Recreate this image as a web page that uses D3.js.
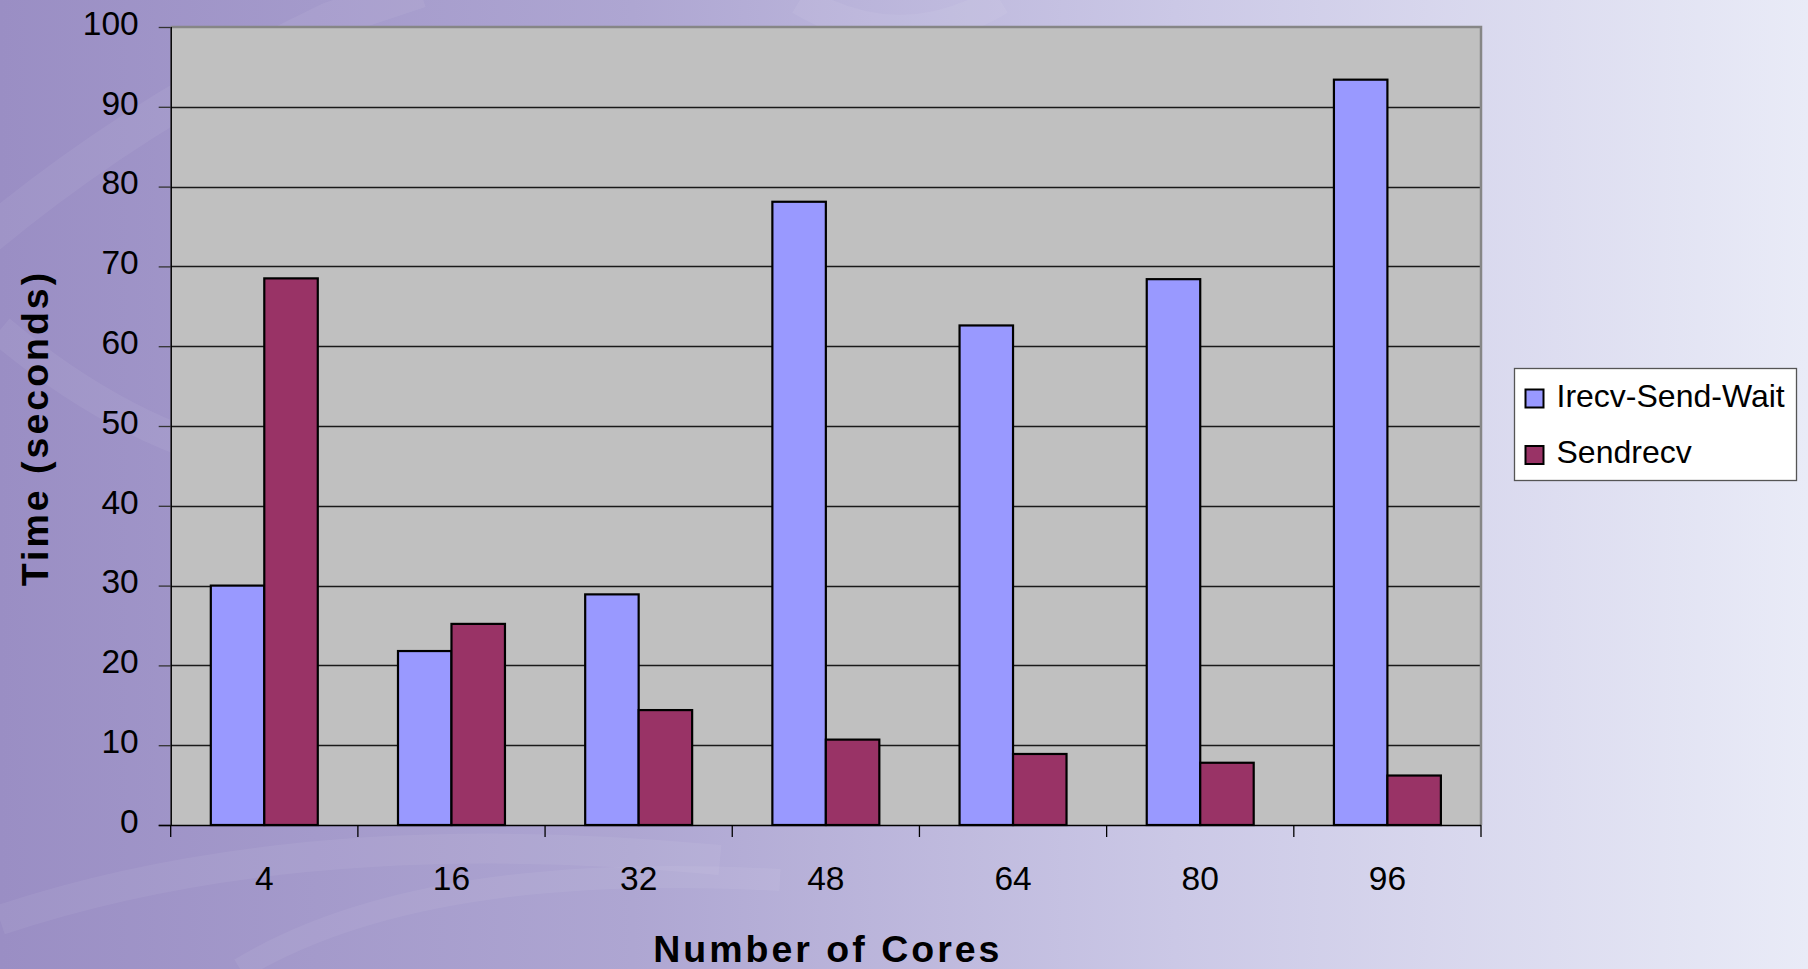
<!DOCTYPE html>
<html>
<head>
<meta charset="utf-8">
<script src="https://cdn.jsdelivr.net/npm/d3@7"></script>
<style>
  html, body { margin: 0; padding: 0; overflow: hidden; }
  svg { display: block; }
  text { font-family: "Liberation Sans", Arial, sans-serif; fill: #000; }
</style>
</head>
<body>
<svg id="chart" width="1808" height="969"></svg>
<script>
// Communication time by core count
const cores = ["4", "16", "32", "48", "64", "80", "96"];
const seriesNames = ["Irecv-Send-Wait", "Sendrecv"];
const irecvSendWait = [30.0, 21.8, 28.9, 78.1, 62.6, 68.4, 93.4];
const sendrecv = [68.5, 25.2, 14.4, 10.7, 8.9, 7.8, 6.2];
const yTicks = [0, 10, 20, 30, 40, 50, 60, 70, 80, 90, 100];
const seriesColors = ["#9999ff", "#993366"];

const W = 1808, H = 969;
const plot = { left: 170.7, right: 1481, top: 27, bottom: 825 };

const svg = d3.select("#chart");
const defs = svg.append("defs");

// slide-style background
const bg = defs.append("linearGradient").attr("id", "bg")
  .attr("x1", "0%").attr("y1", "0%").attr("x2", "100%").attr("y2", "0%");
bg.append("stop").attr("offset", "0%").attr("stop-color", "#9a8ec4");
bg.append("stop").attr("offset", "35%").attr("stop-color", "#aea6d2");
bg.append("stop").attr("offset", "65%").attr("stop-color", "#cbc8e6");
bg.append("stop").attr("offset", "100%").attr("stop-color", "#e9ebf7");
svg.append("rect").attr("width", W).attr("height", H).attr("fill", "url(#bg)");

// faint decorative swirls
const swirl = svg.append("g").attr("fill", "none").attr("stroke", "#ffffff")
  .attr("stroke-opacity", 0.06);
swirl.append("path").attr("d", "M -40 260 Q 120 120 330 20 L 420 -10")
  .attr("stroke-width", 36);
swirl.append("path").attr("d", "M 0 330 Q 180 480 360 470")
  .attr("stroke-width", 30);
swirl.append("path").attr("d", "M 0 920 Q 300 820 720 860")
  .attr("stroke-width", 30);
swirl.append("path").attr("d", "M 240 969 Q 420 860 780 880")
  .attr("stroke-width", 22);
swirl.append("path").attr("d", "M 800 0 Q 900 60 1000 0")
  .attr("stroke-width", 30);

// scales
const x0 = d3.scaleBand().domain(cores).range([plot.left, plot.right]).padding(0);
const x1 = d3.scaleBand().domain(seriesNames).range([0, x0.bandwidth()])
  .paddingInner(0).paddingOuter(0.75);
const y = d3.scaleLinear().domain([0, 100]).range([plot.bottom, plot.top]);

// plot area
svg.append("rect")
  .attr("x", plot.left).attr("y", plot.top)
  .attr("width", plot.right - plot.left).attr("height", plot.bottom - plot.top)
  .attr("fill", "#c0c0c0");

// gridlines
svg.append("g").selectAll("line").data(yTicks.filter(d => d > 0 && d < 100)).join("line")
  .attr("x1", plot.left).attr("x2", plot.right)
  .attr("y1", d => Math.round(y(d)) + 0.5).attr("y2", d => Math.round(y(d)) + 0.5)
  .attr("stroke", "#1a1a1a").attr("stroke-width", 1.3);

// top and right frame
svg.append("path")
  .attr("d", `M${plot.left},${plot.top} H${plot.right} V${plot.bottom}`)
  .attr("fill", "none").attr("stroke", "#868686").attr("stroke-width", 2.5);

// bars
const data = cores.map((c, i) => ({ core: c, values: [irecvSendWait[i], sendrecv[i]] }));
const groups = svg.append("g").selectAll("g").data(data).join("g")
  .attr("transform", d => `translate(${x0(d.core)},0)`);
groups.selectAll("rect")
  .data(d => d.values.map((v, k) => ({ name: seriesNames[k], value: v, k })))
  .join("rect")
  .attr("x", d => x1(d.name))
  .attr("width", x1.bandwidth())
  .attr("y", d => y(d.value))
  .attr("height", d => y(0) - y(d.value))
  .attr("fill", d => seriesColors[d.k])
  .attr("stroke", "#000").attr("stroke-width", 2.2);

// y axis
const yAxis = svg.append("g")
  .attr("transform", `translate(${plot.left},0)`)
  .call(d3.axisLeft(y).tickValues(yTicks).tickSize(12).tickPadding(20).tickFormat(d3.format("d")));
yAxis.select(".domain").attr("stroke", "#000").attr("stroke-width", 1.5)
  .attr("d", `M0.5,${plot.top}V${plot.bottom}`);
yAxis.selectAll(".tick line").attr("stroke", "#333").attr("stroke-width", 1.3);
yAxis.selectAll(".tick text")
  .attr("font-size", 33.5).attr("dy", "0.22em")
  .style("font-family", "'Liberation Sans', Arial, sans-serif").attr("fill", "#000");

// x axis: labels at category centres, ticks at category boundaries
const xAxis = svg.append("g")
  .attr("transform", `translate(0,${plot.bottom})`)
  .call(d3.axisBottom(x0).tickSize(0).tickPadding(41));
xAxis.select(".domain").attr("stroke", "#000").attr("stroke-width", 1.5)
  .attr("d", `M${plot.left - 12},0.5H${plot.right}`);
xAxis.selectAll(".tick text")
  .attr("font-size", 33.5)
  .style("font-family", "'Liberation Sans', Arial, sans-serif").attr("fill", "#000");
const bounds = cores.map(c => x0(c)).concat([x0(cores[cores.length - 1]) + x0.bandwidth()]);
xAxis.append("g").selectAll("line").data(bounds).join("line")
  .attr("x1", d => d).attr("x2", d => d)
  .attr("y1", 0).attr("y2", 12)
  .attr("stroke", "#000").attr("stroke-width", 1.3);

// axis titles
svg.append("text")
  .attr("x", (plot.left + plot.right) / 2 + 2).attr("y", 962)
  .attr("text-anchor", "middle")
  .attr("font-size", 37.5).attr("font-weight", "bold")
  .attr("letter-spacing", 3)
  .text("Number of Cores");

svg.append("text")
  .attr("transform", `translate(48,${(plot.top + plot.bottom) / 2 + 2}) rotate(-90)`)
  .attr("text-anchor", "middle")
  .attr("font-size", 37.5).attr("font-weight", "bold")
  .attr("letter-spacing", 3)
  .text("Time (seconds)");

// legend
const legend = svg.append("g").attr("transform", "translate(1514.5,368.5)");
legend.append("rect").attr("width", 282).attr("height", 112)
  .attr("fill", "#ffffff").attr("stroke", "#555").attr("stroke-width", 1.3);
const items = legend.selectAll("g.item").data(seriesNames).join("g")
  .attr("class", "item")
  .attr("transform", (d, i) => `translate(0,${i * 56.5})`);
items.append("rect")
  .attr("x", 11).attr("y", 21).attr("width", 18).attr("height", 18)
  .attr("fill", (d, i) => seriesColors[i])
  .attr("stroke", "#000").attr("stroke-width", 2);
items.append("text")
  .attr("x", 42).attr("y", 38)
  .attr("font-size", 32)
  .text(d => d);
</script>
</body>
</html>
